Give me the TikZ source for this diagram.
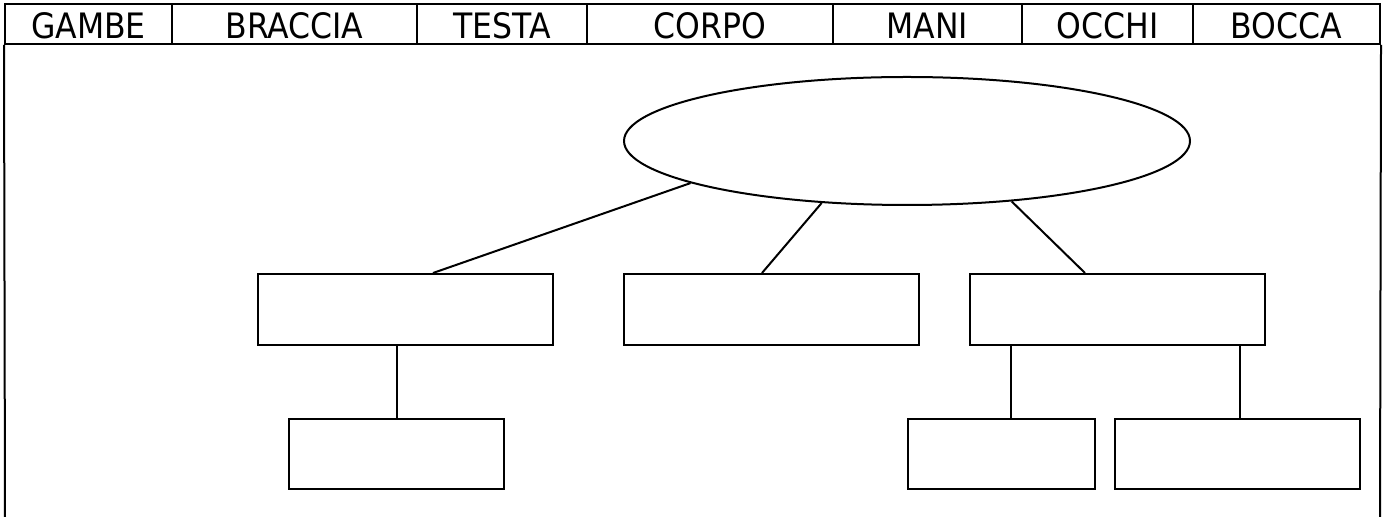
\documentclass[tikz,border=0pt]{standalone}
\usepackage{fontspec}
\setmainfont{DejaVu Sans Condensed}
\usetikzlibrary{shapes.geometric}
\begin{document}
\begin{tikzpicture}[x=0.5pt,y=-0.5pt,line width=1pt,
    cell/.style={draw, minimum height=20pt, inner sep=0pt, text height=14.5pt, text depth=0pt, font=\fontsize{17.5}{21}\selectfont},
    box/.style={draw, rectangle, inner sep=0pt},
    ell/.style={draw, ellipse, inner sep=0pt}]
    \useasboundingbox (0,0) rectangle (1386,517);
    % header row
    \node [cell, minimum width=83.5pt] (gambe) at (88.5,24) {GAMBE};
    \node [cell, minimum width=122.5pt] (braccia) at (294.5,24) {BRACCIA};
    \node [cell, minimum width=85pt] (testa) at (502,24) {TESTA};
    \node [cell, minimum width=123pt] (corpo) at (710,24) {CORPO};
    \node [cell, minimum width=94.5pt] (mani) at (927.5,24) {MANI};
    \node [cell, minimum width=85.5pt] (occhi) at (1107.5,24) {OCCHI};
    \node [cell, minimum width=93.5pt] (bocca) at (1286.5,24) {BOCCA};
    \draw (gambe.south west) -- (5,517);
    \draw (bocca.south east) -- (1380,517);
    % map
    \node [ell, minimum width=283pt, minimum height=64pt] (topic) at (907,141) {};
    \node [box, minimum width=147.5pt, minimum height=35.5pt] (left) at (405.5,309.5) {};
    \node [box, minimum width=147.5pt, minimum height=35.5pt] (mid) at (771.5,309.5) {};
    \node [box, minimum width=147.5pt, minimum height=35.5pt] (right) at (1117.5,309.5) {};
    \node [box, minimum width=107.5pt, minimum height=35pt] (leftsub) at (396.5,454) {};
    \node [box, minimum width=93.5pt, minimum height=35pt] (rightsuba) at (1001.5,454) {};
    \node [box, minimum width=122.5pt, minimum height=35pt] (rightsubb) at (1237.5,454) {};
    \draw (topic.191) -- ([xshift=13.75pt]left.north);
    \draw (topic.216) -- ([xshift=-4.75pt]mid.north);
    \draw (topic.330) -- ([xshift=-16.25pt]right.north);
    \draw (leftsub.north) -- (leftsub.north |- left.south);
    \draw ([xshift=4.75pt]rightsuba.north) -- ([xshift=4.75pt]rightsuba.north |- right.south);
    \draw ([xshift=1.25pt]rightsubb.north) -- ([xshift=1.25pt]rightsubb.north |- right.south);
\end{tikzpicture}
\end{document}
